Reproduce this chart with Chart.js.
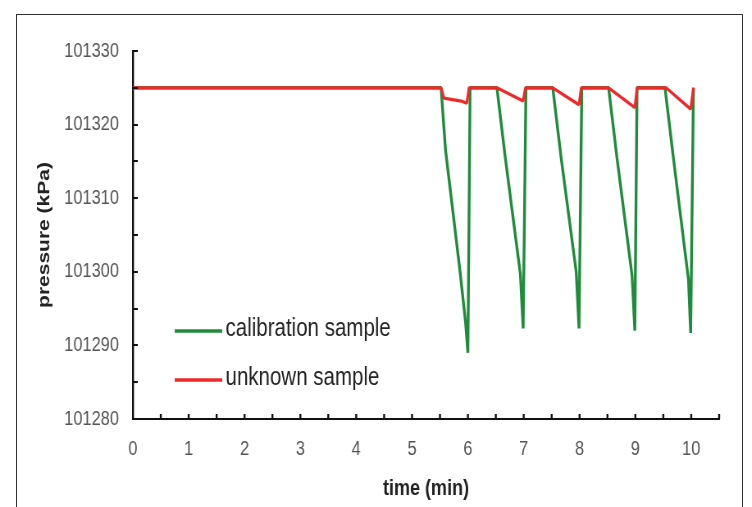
<!DOCTYPE html>
<html>
<head>
<meta charset="utf-8">
<script src="https://cdn.jsdelivr.net/npm/chart.js@4.4.1/dist/chart.umd.min.js"></script>
<style>
  html, body { margin: 0; padding: 0; background: #fff; }
  #wrap { position: relative; width: 752px; height: 507px; overflow: hidden; }
  #frame { position: absolute; left: 16px; top: 14px; width: 725px; height: 600px; border: 1px solid #333; }
  /* el original esta comprimido en horizontal, se imita con scaleX */
  canvas { position: absolute; left: 0; top: 0; transform: scaleX(0.82); transform-origin: 0 0; }
</style>
</head>
<body>
<div id="wrap">
  <div id="frame"></div>
  <canvas id="grafico" width="917" height="507"></canvas>
</div>
<script>
// datos
const calTime = [0, 5.52, 5.6, 5.86, 5.96, 6.0, 6.04, 6.52, 6.67, 6.94, 6.99, 7.04, 7.52, 7.67, 7.94, 7.99, 8.04, 8.52, 8.67, 8.94, 8.99, 9.03, 9.53, 9.68, 9.95, 9.99, 10.04];
const calPressure = [101325, 101325, 101316.5, 101300, 101293, 101289, 101325, 101325, 101315.5, 101299.7, 101292.3, 101325, 101325, 101315.5, 101300, 101292.3, 101325, 101325, 101315.5, 101299.5, 101292, 101325, 101325, 101315.5, 101299, 101291.7, 101325];

const unkTime = [0, 5.52, 5.57, 5.88, 5.98, 6.02, 6.52, 6.99, 7.03, 7.52, 7.99, 8.03, 8.52, 8.99, 9.03, 9.55, 9.99, 10.04];
const unkPressure = [101325, 101325, 101323.6, 101323.2, 101322.9, 101325, 101325, 101323.2, 101325, 101325, 101322.7, 101325, 101325, 101322.3, 101325, 101325, 101322.1, 101325];

const xTicks = [0, 1, 2, 3, 4, 5, 6, 7, 8, 9, 10];
const yTicks = [101280, 101290, 101300, 101310, 101320, 101330];
const xMarcas = [0.5, 1, 1.5, 2, 2.5, 3, 3.5, 4, 4.5, 5, 5.5, 6, 6.5, 7, 7.5, 8, 8.5, 9, 9.5, 10, 10.5];
const yMarcas = [101285, 101290, 101295, 101300, 101305, 101310, 101315, 101320, 101325, 101330];

const nombres = ["calibration sample", "unknown sample"];
const colores = ["#1f8c3b", "#f0282a"];

const fuente = "'Liberation Sans', Arial, sans-serif";

function puntos(xs, ys) {
  return xs.map((x, i) => ({ x: x, y: ys[i] }));
}

// marcas cortas hacia adentro en los ejes
const marcasInternas = {
  id: "marcasInternas",
  afterDatasetsDraw(chart) {
    const { ctx, chartArea, scales } = chart;
    ctx.save();
    ctx.strokeStyle = "#111";
    ctx.lineWidth = 2.4;
    xMarcas.forEach((v) => {
      const px = scales.x.getPixelForValue(v);
      ctx.beginPath();
      ctx.moveTo(px, chartArea.bottom);
      ctx.lineTo(px, chartArea.bottom - 5);
      ctx.stroke();
    });
    ctx.lineWidth = 2;
    yMarcas.forEach((v) => {
      const py = Math.round(scales.y.getPixelForValue(v));
      ctx.beginPath();
      ctx.moveTo(chartArea.left, py);
      ctx.lineTo(chartArea.left + 6, py);
      ctx.stroke();
    });
    ctx.restore();
  },
};

// leyenda dentro del area del grafico
const leyendaInterna = {
  id: "leyendaInterna",
  afterDraw(chart) {
    const ctx = chart.ctx;
    ctx.save();
    ctx.font = "25px " + fuente;
    ctx.textBaseline = "middle";
    ctx.textAlign = "left";
    [331, 380].forEach((y, i) => {
      ctx.strokeStyle = colores[i];
      ctx.lineWidth = 3.5;
      ctx.beginPath();
      ctx.moveTo(213, y);
      ctx.lineTo(271, y);
      ctx.stroke();
      ctx.fillStyle = "#222";
      ctx.fillText(nombres[i], 275, y - 2);
    });
    ctx.restore();
  },
};

const ctx = document.getElementById("grafico").getContext("2d");

const grafico = new Chart(ctx, {
  type: "scatter",
  data: {
    datasets: [
      {
        label: nombres[0],
        data: puntos(calTime, calPressure),
        borderColor: colores[0],
        borderWidth: 3.4,
        showLine: true,
        pointRadius: 0,
        borderJoinStyle: "bevel",
        order: 1,
      },
      {
        label: nombres[1],
        data: puntos(unkTime, unkPressure),
        borderColor: colores[1],
        borderWidth: 3.2,
        showLine: true,
        pointRadius: 0,
        borderJoinStyle: "bevel",
        order: 0,
      },
    ],
  },
  options: {
    responsive: false,
    animation: false,
    devicePixelRatio: 1,
    layout: { padding: { left: 0, right: 40, top: 51, bottom: 0 } },
    plugins: {
      legend: { display: false },
      tooltip: { enabled: false },
    },
    scales: {
      x: {
        type: "linear",
        min: 0,
        max: 10.5,
        afterBuildTicks: (s) => { s.ticks = xTicks.map((v) => ({ value: v })); },
        afterFit: (s) => { s.height = 88; },
        grid: { display: true, drawOnChartArea: false, drawTicks: false },
        border: { display: true, color: "#111", width: 2 },
        ticks: {
          padding: 18,
          color: "#555",
          font: { family: fuente, size: 20 },
          callback: (v) => String(v),
        },
        title: {
          display: true,
          text: "time (min)",
          color: "#222",
          font: { family: fuente, size: 22, weight: "bold" },
          padding: { top: 0, bottom: 5 },
        },
      },
      y: {
        type: "linear",
        min: 101280,
        max: 101330,
        afterBuildTicks: (s) => { s.ticks = yTicks.map((v) => ({ value: v })); },
        afterFit: (s) => { s.width = 162; },
        grid: { display: true, drawOnChartArea: false, drawTicks: false },
        border: { display: true, color: "#111", width: 2.4 },
        ticks: {
          padding: 17,
          color: "#555",
          font: { family: fuente, size: 20 },
          callback: (v) => String(v),
        },
        title: {
          display: true,
          text: "pressure (kPa)",
          color: "#222",
          font: { family: fuente, size: 21, weight: "bold" },
          padding: { top: 42, bottom: 0 },
        },
      },
    },
  },
  plugins: [marcasInternas, leyendaInterna],
});
</script>
</body>
</html>
